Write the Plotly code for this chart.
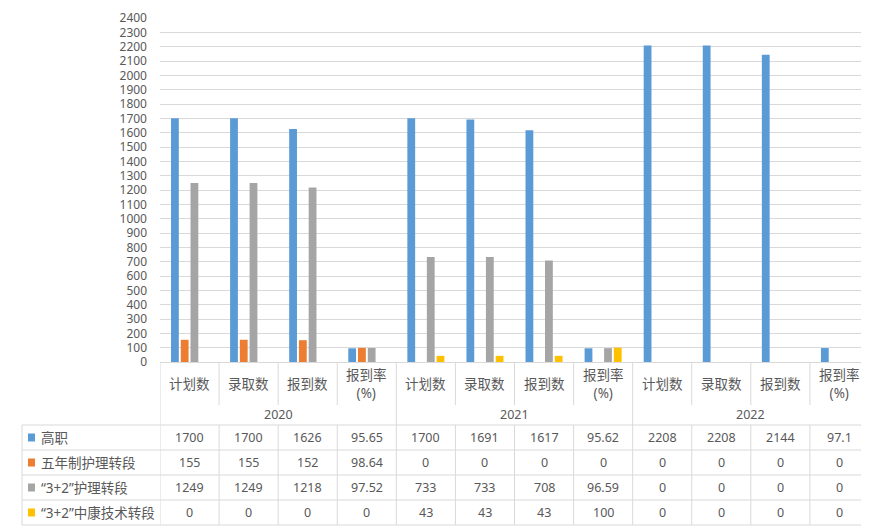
import plotly.graph_objects as go

years = ["2020", "2020", "2020", "2020", "2021", "2021", "2021", "2021", "2022", "2022", "2022", "2022"]
items = ["计划数", "录取数", "报到数", "报到率<br>(%)"] * 3
series_names = ["高职", "五年制护理转段", "“3+2”护理转段", "“3+2”中康技术转段"]
gaozhi = [1700, 1700, 1626, 95.65, 1700, 1691, 1617, 95.62, 2208, 2208, 2144, 97.1]
wunian = [155, 155, 152, 98.64, 0, 0, 0, 0, 0, 0, 0, 0]
huli32 = [1249, 1249, 1218, 97.52, 733, 733, 708, 96.59, 0, 0, 0, 0]
kang32 = [0, 0, 0, 0, 43, 43, 43, 100, 0, 0, 0, 0]
colors = ["#5B9BD5", "#ED7D31", "#A5A5A5", "#FFC000"]
year_groups = ["2020", "2021", "2022"]

all_series = [gaozhi, wunian, huli32, kang32]
xs = list(range(len(items)))

# page is shown with the default 8px body margin; lay out in page pixels
OFF = 8
W, H = 869 - OFF, 527 - OFF
PLOT_L, PLOT_R, PLOT_T, PLOT_B = 160, 869, 18, 362
ML, MR, MT, MB = PLOT_L - OFF, 869 - PLOT_R, PLOT_T - OFF, 527 - PLOT_B
PW, PH = PLOT_R - PLOT_L, PLOT_B - PLOT_T
FONT = "Noto Sans, Noto Sans CJK SC, sans-serif"
TXT = "#595959"
LINE = "#D9D9D9"

def py(pix):
    return (PLOT_B - pix) / PH

def px(pix):
    return (pix - PLOT_L) / PW

fig = go.Figure()
for name, vals, c in zip(series_names, all_series, colors):
    fig.add_trace(go.Bar(x=xs, y=vals, name=name, marker=dict(color=c, line=dict(width=0)),
                         hoverinfo="y+name"))

shapes = []
annotations = []

# table horizontal lines
for ypix in [425, 450, 475, 500, 525]:
    shapes.append(dict(type="line", xref="paper", yref="paper", x0=px(22), x1=1, y0=py(ypix), y1=py(ypix),
                       line=dict(color=LINE, width=1)))
# vertical lines
n = len(items)
for i in range(n + 1):
    xv = i - 0.5
    if i % 4 == 0:
        shapes.append(dict(type="line", xref="x", yref="paper", x0=xv, x1=xv, y0=py(362), y1=py(525),
                           line=dict(color=LINE, width=1)))
    else:
        shapes.append(dict(type="line", xref="x", yref="paper", x0=xv, x1=xv, y0=py(362), y1=py(405),
                           line=dict(color=LINE, width=1)))
        shapes.append(dict(type="line", xref="x", yref="paper", x0=xv, x1=xv, y0=py(425), y1=py(525),
                           line=dict(color=LINE, width=1)))
shapes.append(dict(type="line", xref="paper", yref="paper", x0=px(22), x1=px(22), y0=py(425), y1=py(525),
                   line=dict(color=LINE, width=1)))

# category labels
for i, lab in enumerate(items):
    annotations.append(dict(x=i, y=py(384), xref="x", yref="paper", text=lab, showarrow=False,
                            font=dict(family=FONT, size=13.5, color=TXT), xanchor="center", yanchor="middle"))
# year labels
for k, yr in enumerate(year_groups):
    annotations.append(dict(x=4 * k + 1.5, y=py(414), xref="x", yref="paper", text=yr, showarrow=False,
                            font=dict(family=FONT, size=12.5, color=TXT), xanchor="center", yanchor="middle"))
# data rows
row_y = [437.5, 462.5, 487.5, 512.5]
for r, (name, vals, c) in enumerate(zip(series_names, all_series, colors)):
    yc = py(row_y[r])
    shapes.append(dict(type="rect", xref="paper", yref="paper", x0=px(28), x1=px(35),
                       y0=py(row_y[r] + 4), y1=py(row_y[r] - 4), fillcolor=c, line=dict(width=0)))
    annotations.append(dict(x=px(39), y=yc, xref="paper", yref="paper", text=name, showarrow=False,
                            font=dict(family=FONT, size=13.5, color=TXT), xanchor="left", yanchor="middle"))
    for i, v in enumerate(vals):
        annotations.append(dict(x=i, y=yc, xref="x", yref="paper", text=f"{v:g}", showarrow=False,
                                font=dict(family=FONT, size=12.5, color=TXT), xanchor="center", yanchor="middle"))

fig.update_layout(
    width=W, height=H,
    margin=dict(l=ML, r=MR, t=MT, b=MB, pad=0),
    paper_bgcolor="white", plot_bgcolor="white",
    barmode="group", bargap=0.34, bargroupgap=0.2,
    showlegend=False,
    shapes=shapes, annotations=annotations,
    font=dict(family=FONT, color=TXT),
)
fig.update_xaxes(range=[-0.5, n - 0.5], showticklabels=False, showgrid=False, zeroline=False,
                 showline=False, ticks="")
fig.update_yaxes(range=[0, 2400], dtick=100, tick0=0, showgrid=True, gridcolor=LINE, gridwidth=1,
                 zeroline=True, zerolinecolor=LINE, zerolinewidth=1, showline=False,
                 ticks="", ticklabelstandoff=12,
                 tickfont=dict(family=FONT, size=12, color=TXT))

fig.write_html("out.html")
